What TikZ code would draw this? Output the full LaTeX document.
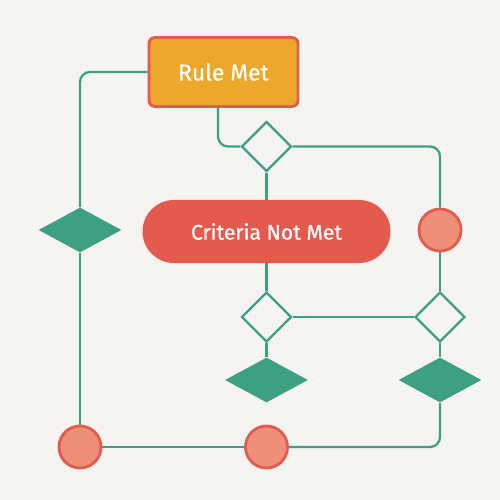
\documentclass[tikz,border=0pt]{standalone}
\usepackage{fontspec}
\setmainfont{Fira Sans}
\newfontfamily\labelfont[FakeBold=0.8]{Fira Sans}
\usepackage{tikz}
\usetikzlibrary{shapes.geometric, calc}

\definecolor{paper}{RGB}{245,244,240}
\definecolor{leaf}{RGB}{62,160,131}
\definecolor{amber}{RGB}{237,167,42}
\definecolor{coral}{RGB}{229,90,78}
\definecolor{salmon}{RGB}{238,143,120}

\pgfdeclarelayer{back}
\pgfsetlayers{back,main}

\tikzset{
    link/.style={draw=leaf, line width=1.3pt, rounded corners=0.2cm},
    choice/.style={diamond, draw=leaf, line width=1.3pt, fill=paper, inner sep=0pt, minimum width=1cm, minimum height=1cm},
    solidchoice/.style={diamond, fill=leaf, inner sep=0pt, minimum width=1.66cm, minimum height=0.9cm},
    stop/.style={circle, draw=coral, fill=salmon, line width=1.6pt, minimum size=0.84cm, inner sep=0pt},
}

\begin{document}
\begin{tikzpicture}
        % Boxes with text
        \node[draw=coral, fill=amber, line width=1.6pt, rounded corners=0.12cm, minimum width=2.98cm, minimum height=1.38cm, text=white, font=\labelfont\fontsize{13}{15}\selectfont] (rule) at (4.47,-1.44) {Rule Met};
        \node[fill=coral, rounded corners=0.63cm, minimum width=4.96cm, minimum height=1.26cm, text=white, font=\labelfont\fontsize{12}{14}\selectfont] (crit) at (5.33,-4.63) {Criteria Not Met};

        % Decisions
        \node[choice] (qtop) at (5.33,-2.93) {};
        \node[choice] (qmid) at (5.33,-6.34) {};
        \node[choice] (qright) at (8.8,-6.34) {};
        \node[solidchoice] (dleft) at (1.6,-4.6) {};
        \node[solidchoice] (dmid) at (5.33,-7.6) {};
        \node[solidchoice] (dright) at (8.8,-7.6) {};

        % End points
        \node[stop] (cright) at (8.8,-4.6) {};
        \node[stop] (cleft) at (1.6,-8.94) {};
        \node[stop] (cmid) at (5.33,-8.94) {};

        \begin{pgfonlayer}{back}
        % Background of the page
        \fill[paper] (0,0) rectangle (10,-10);
        \useasboundingbox (0,0) rectangle (10,-10);

        % Connectors
        \draw[link] (rule.west) -| (dleft.north);
        \draw[link] (dleft.south) -- (cleft.north);
        \draw[link] (cleft.east) -- (cmid.west);
        \draw[link] (cmid.east) -| (dright.south);
        \draw[link] ([xshift=-0.11cm]rule.south) |- (qtop.west);
        \draw[link] (qtop.east) -| (cright.north);
        \draw[link] (qtop.south) -- (crit.north);
        \draw[link] (crit.south) -- (qmid.north);
        \draw[link] (qmid.south) -- (dmid.north);
        \draw[link] (qmid.east) -- (qright.west);
        \draw[link] (cright.south) -- (qright.north);
        \draw[link] (qright.south) -- (dright.north);
        \end{pgfonlayer}
    \end{tikzpicture}
\end{document}
